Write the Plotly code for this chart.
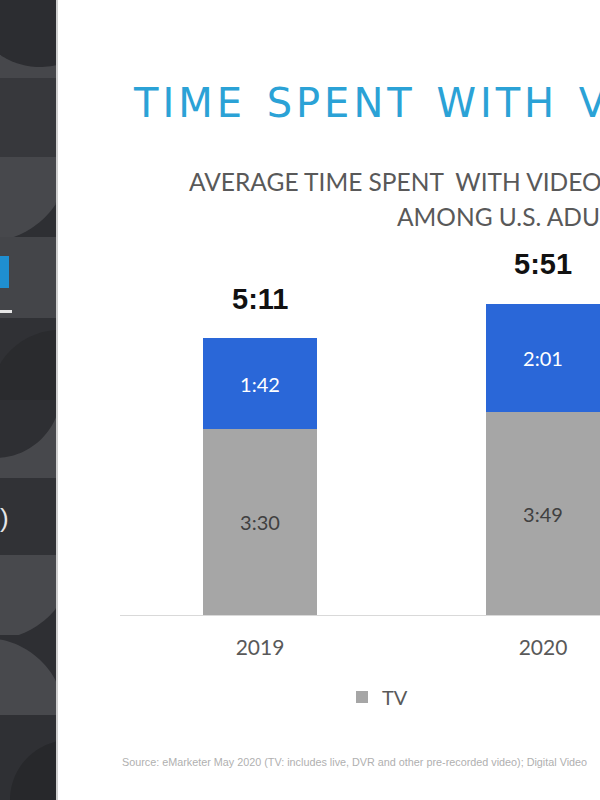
import numpy as np
import plotly.graph_objects as go

# ---- data (minutes per day, as labelled on the slide) ----
years = ["2019", "2020"]
tv_minutes = [210, 229]          # 3:30, 3:49
digital_minutes = [102, 121]     # 1:42, 2:01
total_minutes = [311, 351]       # 5:11, 5:51 (labelled totals)
series_names = ["TV", "Digital Video"]


def hm(m):
    return f"{m // 60}:{m % 60:02d}"


W, H = 600, 800
ML, MR, MT, MB = 120, 0, 0, 185
PW, PH = W - ML - MR, H - MT - MB


def px(x):
    return (x - ML) / PW


def py(y):
    return (H - MB - y) / PH


fig = go.Figure()
fig.add_bar(
    x=years, y=tv_minutes, name=series_names[0],
    marker=dict(color="#a6a6a6", line=dict(width=0)),
    text=[hm(v) for v in tv_minutes], textposition="inside",
    insidetextanchor="middle", textangle=0, constraintext="none",
    textfont=dict(family="Lato", size=20, color="#404040"),
    width=0.4, hoverinfo="skip",
)
fig.add_bar(
    x=years, y=digital_minutes, name=series_names[1], showlegend=False,
    marker=dict(color="#2a67d8", line=dict(width=0)),
    text=[hm(v) for v in digital_minutes], textposition="inside",
    insidetextanchor="middle", textangle=0, constraintext="none",
    textfont=dict(family="Lato", size=20, color="#ffffff"),
    width=0.4, hoverinfo="skip",
)

annotations = []
for i, t in enumerate(total_minutes):
    annotations.append(dict(
        x=i, y=t, xref="x", yref="y", text=hm(t), showarrow=False,
        yanchor="middle", yshift=40,
        font=dict(family="Liberation Sans", size=29, color="#111111", weight="bold"),
    ))

# title & subtitles (as visible in the cropped slide)
hs = "\u200a"
title_words = ["TIME", "SPENT", "WITH", "V"]
title_spaced = (hs + "\u00a0" + hs + hs).join(hs.join(list(w)) for w in title_words)
annotations.append(dict(
    xref="paper", yref="paper", x=px(131), y=py(103), xanchor="left", yanchor="middle",
    text=title_spaced, showarrow=False,
    font=dict(family="DejaVu Sans", size=40, color="#2ba2d6"),
))
annotations.append(dict(
    xref="paper", yref="paper", x=px(187), y=py(182), xanchor="left", yanchor="middle",
    text="AVERAGE TIME SPENT\u00a0\u00a0WITH VIDEO", showarrow=False,
    font=dict(family="Lato", size=24.5, color="#595959"),
))
annotations.append(dict(
    xref="paper", yref="paper", x=px(395), y=py(216), xanchor="left", yanchor="middle",
    text="AMONG U.S. ADU", showarrow=False,
    font=dict(family="Lato", size=24.5, color="#595959"),
))
annotations.append(dict(
    xref="paper", yref="paper", x=px(120), y=py(762), xanchor="left", yanchor="middle",
    text="Source: eMarketer May 2020 (TV: includes live, DVR and other pre-recorded video); Digital Video",
    showarrow=False,
    font=dict(family="Liberation Sans", size=10.8, color="#b0b0b0"),
))
# left-panel glyph fragments
annotations.append(dict(
    xref="paper", yref="paper", x=px(4), y=py(518), xanchor="center", yanchor="middle",
    text=")", showarrow=False, font=dict(family="Liberation Sans", size=26, color="#e6e6e6"),
))

# ---- decorative left panel ----
shapes = []
PANEL_W = 56
bands = [
    (0, 78, "#46474b", [(40, -5, 72, "#2c2d31")]),
    (78, 157, "#37383c", []),
    (157, 237, "#2e2f33", [(-15, 157, 85, "#47484c")]),
    (237, 318, "#444549", []),
    (318, 400, "#303135", [(60, 400, 70, "#2a2b2e")]),
    (400, 478, "#47484c", [(-5, 392, 66, "#2e2f33")]),
    (478, 555, "#313236", []),
    (555, 635, "#2e2f33", [(-10, 555, 85, "#48494d")]),
    (635, 715, "#2e2f33", [(-15, 718, 80, "#48494d")]),
    (715, 800, "#2f3034", [(70, 800, 60, "#27282b")]),
]


def rect(x0, y0, x1, y1, color):
    return dict(type="rect", xref="paper", yref="paper", layer="above",
                x0=px(x0), x1=px(x1), y0=py(y1), y1=py(y0),
                fillcolor=color, line=dict(width=0))


for y0, y1, bg, circles in bands:
    shapes.append(rect(0, y0, PANEL_W, y1, bg))
    for cx, cy, r, col in circles:
        t = np.linspace(0, 2 * np.pi, 160)
        xs = np.clip(cx + r * np.cos(t), 0, PANEL_W)
        ys = np.clip(cy + r * np.sin(t), y0, y1)
        path = "M" + " L".join(f"{px(a):.5f},{py(b):.5f}" for a, b in zip(xs, ys)) + " Z"
        shapes.append(dict(type="path", xref="paper", yref="paper", layer="above",
                           path=path, fillcolor=col, line=dict(width=0)))

shapes.append(rect(0, 256, 9, 288, "#1f8fd0"))
shapes.append(rect(0, 310, 12, 313, "#e6e6e6"))
shapes.append(dict(type="line", xref="paper", yref="paper", layer="above",
                   x0=px(57), x1=px(57), y0=py(800), y1=py(0),
                   line=dict(color="#cfcfcf", width=2)))

fig.update_layout(
    width=W, height=H, autosize=False,
    margin=dict(l=ML, r=MR, t=MT, b=MB, pad=0),
    barmode="stack", bargap=0,
    paper_bgcolor="#ffffff", plot_bgcolor="#ffffff",
    showlegend=True,
    legend=dict(orientation="h", x=px(342), y=py(697), xanchor="left", yanchor="middle",
                font=dict(family="Lato", size=20, color="#595959"),
                bgcolor="rgba(0,0,0,0)", itemwidth=30),
    xaxis=dict(type="category", range=[-0.4947, 1.2014], showline=True,
               linecolor="#d9d9d9", linewidth=1, showgrid=False, zeroline=False,
               ticks="", ticklabelstandoff=14,
               tickfont=dict(family="Lato", size=21, color="#595959"), fixedrange=True),
    yaxis=dict(range=[0, 693], visible=False, fixedrange=True),
    annotations=annotations,
    shapes=shapes,
)

fig.write_html("out.html", config={"displayModeBar": False},
               post_script="document.body.style.margin='0';document.body.style.overflow='hidden';")
